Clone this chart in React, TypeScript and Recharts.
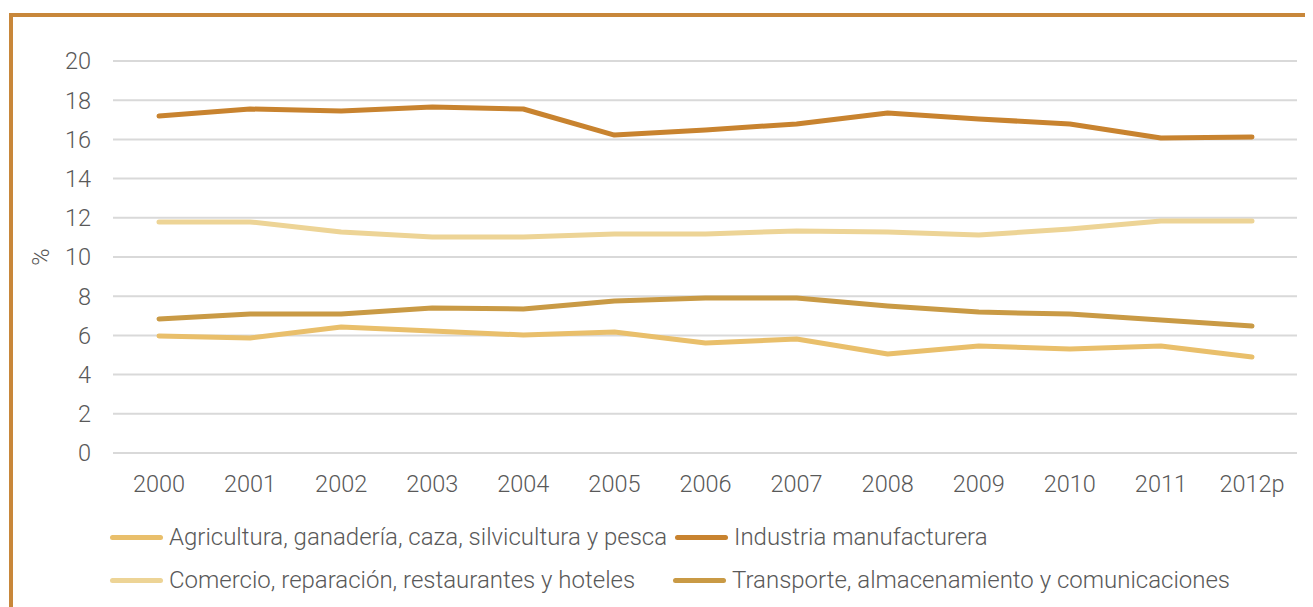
import React from "react";
import {
  LineChart,
  Line,
  XAxis,
  YAxis,
  CartesianGrid,
} from "recharts";

const anios = ["2000", "2001", "2002", "2003", "2004", "2005", "2006", "2007", "2008", "2009", "2010", "2011", "2012p"];

const agricultura = [5.97, 5.87, 6.43, 6.22, 6.02, 6.17, 5.61, 5.82, 5.05, 5.46, 5.31, 5.46, 4.9];
const industria = [17.19, 17.55, 17.45, 17.65, 17.55, 16.22, 16.48, 16.79, 17.35, 17.04, 16.79, 16.07, 16.12];
const comercio = [11.79, 11.79, 11.28, 11.02, 11.02, 11.17, 11.17, 11.33, 11.28, 11.12, 11.43, 11.84, 11.84];
const transporte = [6.84, 7.09, 7.09, 7.4, 7.35, 7.76, 7.91, 7.91, 7.5, 7.19, 7.09, 6.79, 6.48];

const ticksY = [0, 2, 4, 6, 8, 10, 12, 14, 16, 18, 20];

const series = [
  { key: "agricultura", nombre: "Agricultura, ganadería, caza, silvicultura y pesca", color: "#E9BF6B" },
  { key: "industria", nombre: "Industria manufacturera", color: "#C8832F" },
  { key: "comercio", nombre: "Comercio, reparación, restaurantes y hoteles", color: "#EDD496" },
  { key: "transporte", nombre: "Transporte, almacenamiento y comunicaciones", color: "#C99A45" },
];

const data = anios.map((a, i) => ({
  anio: a,
  agricultura: agricultura[i],
  industria: industria[i],
  comercio: comercio[i],
  transporte: transporte[i],
}));

const fuente = "Roboto, 'Noto Sans', sans-serif";
const gris = "#595959";

// posiciones de la leyenda (dos columnas, dos filas)
const leyendaPos = [
  { left: 102, top: 515 },
  { left: 667, top: 515 },
  { left: 102, top: 558 },
  { left: 665, top: 558 },
];

const App: React.FC = () => {
  return (
    <div style={{ position: "relative", width: 1305, height: 599, overflow: "hidden", fontFamily: fuente }}>
      <div
        style={{
          position: "absolute",
          left: 1,
          top: 5,
          width: 1400,
          height: 700,
          borderTop: "4px solid #C8873A",
          borderLeft: "4px solid #C8873A",
        }}
      />
      <div style={{ position: "absolute", left: 5, top: 9 }}>
        <LineChart width={1300} height={480} data={data} margin={{ top: 44, right: 16, left: 20, bottom: 4 }}>
          <CartesianGrid vertical={false} stroke="#D9D9D9" strokeWidth={2} />
          <XAxis
            dataKey="anio"
            axisLine={false}
            tickLine={false}
            height={40}
            tickSize={0}
            tickMargin={22}
            interval={0}
            padding={{ left: 46, right: 45 }}
            tick={{ fill: gris, fontSize: 23.5, fontWeight: 300, fontFamily: fuente }}
          />
          <YAxis
            domain={[0, 20]}
            ticks={ticksY}
            width={80}
            axisLine={false}
            tickLine={false}
            tickSize={0}
            tickMargin={22}
            tick={{ fill: gris, fontSize: 23.5, fontWeight: 300, fontFamily: fuente }}
            label={{
              value: "%",
              angle: -90,
              position: "insideLeft",
              offset: 8,
              style: { fill: gris, fontSize: 23.5, fontWeight: 300, fontFamily: fuente, textAnchor: "middle" },
            }}
          />
          {series.map((s) => (
            <Line
              key={s.key}
              type="linear"
              dataKey={s.key}
              name={s.nombre}
              stroke={s.color}
              strokeWidth={5}
              strokeLinecap="round"
              strokeLinejoin="round"
              dot={false}
              activeDot={false}
              isAnimationActive={false}
            />
          ))}
        </LineChart>
      </div>
      {series.map((s, i) => (
        <div
          key={s.key}
          style={{
            position: "absolute",
            left: leyendaPos[i].left,
            top: leyendaPos[i].top,
            display: "flex",
            alignItems: "center",
            height: 28,
            whiteSpace: "nowrap",
          }}
        >
          <div style={{ width: 53, height: 5, borderRadius: 3, background: s.color, marginRight: 6 }} />
          <span style={{ color: gris, fontSize: 24, fontWeight: 300, fontFamily: fuente }}>{s.nombre}</span>
        </div>
      ))}
    </div>
  );
};

export default App;
